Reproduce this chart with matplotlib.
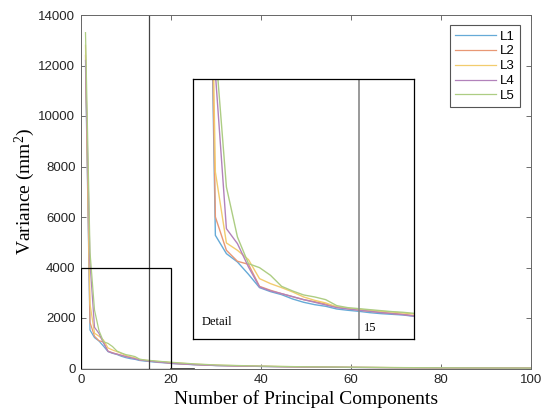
import matplotlib
matplotlib.use('Agg')
import matplotlib.pyplot as plt
from matplotlib.patches import Rectangle

# ---------------- data ----------------
components = list(range(1, 21)) + [25, 30, 40, 50, 60, 70, 80, 90, 100]
L1 = [12000, 1524, 1224, 1088, 886, 668, 602, 553, 482, 428, 389, 362, 318, 297, 280, 258, 242, 231, 220, 198,
      150, 115, 80, 58, 42, 32, 24, 18, 13]
L2 = [12400, 1824, 1279, 1099, 1050, 689, 624, 569, 520, 471, 438, 400, 351, 324, 302, 280, 264, 247, 231, 209,
      158, 120, 84, 61, 44, 34, 25, 19, 14]
L3 = [12800, 2561, 1399, 1279, 1126, 815, 733, 668, 597, 515, 460, 417, 351, 329, 313, 297, 280, 269, 253, 237,
      175, 132, 90, 65, 47, 36, 27, 20, 15]
L4 = [12200, 4178, 1633, 1388, 1006, 679, 613, 569, 520, 471, 428, 384, 340, 318, 297, 280, 258, 242, 226, 204,
      155, 118, 82, 60, 43, 33, 25, 18, 13]
L5 = [13300, 4612, 2315, 1497, 1060, 995, 869, 689, 613, 548, 515, 471, 373, 340, 324, 307, 291, 275, 264, 247,
      185, 140, 95, 68, 50, 38, 29, 22, 16]
series_names = ['L1', 'L2', 'L3', 'L4', 'L5']
series = [L1, L2, L3, L4, L5]
colors = ['#66AAD7', '#E89875', '#F2CC6E', '#B282BB', '#ADCD83']

x_ticks = [0, 20, 40, 60, 80, 100]
y_ticks = [0, 2000, 4000, 6000, 8000, 10000, 12000, 14000]
marked_pc = 15
detail_box = (0, 0, 20, 4000)

# ---------------- style ----------------
plt.rcParams['font.family'] = ['Liberation Sans', 'DejaVu Sans']
plt.rcParams['mathtext.fontset'] = 'custom'
plt.rcParams['mathtext.rm'] = 'Liberation Serif'
plt.rcParams['mathtext.it'] = 'Liberation Serif:italic'

W, H = 544, 420
fig = plt.figure(figsize=(W / 100, H / 100), dpi=100)

ax_l, ax_r, ax_t, ax_b = 81, 531, 15, 368.5
ax = fig.add_axes([ax_l / W, 1 - ax_b / H, (ax_r - ax_l) / W, (ax_b - ax_t) / H])

for name, vals, c in zip(series_names, series, colors):
    ax.plot(components, vals, color=c, lw=0.9, label=name)

ax.set_xlim(0, 100)
ax.set_ylim(0, 14000)
ax.set_xticks(x_ticks)
ax.set_yticks(y_ticks)
ax.tick_params(direction='in', length=3.5, width=0.6, top=True, right=True,
               labelsize=9.5, colors='#555555', labelcolor='#262626', pad=4)
for s in ax.spines.values():
    s.set_color('#666666')
    s.set_linewidth(0.7)

ax.axvline(marked_pc, color='#444444', lw=0.9)
x0, y0, x1, y1 = detail_box
ax.add_patch(Rectangle((x0, y0), x1 - x0, y1 - y0, fill=False, edgecolor='black', lw=0.9, zorder=5))
ax.plot([x1, 25], [0, 0], color='#333333', lw=1.2, zorder=5)

ax.set_xlabel('Number of Principal Components', family='Liberation Serif', fontsize=14, labelpad=3)
ax.set_ylabel('Variance (mm$^{2}$)', family='Liberation Serif', fontsize=14, labelpad=1)

leg = ax.legend(loc='upper right', bbox_to_anchor=((520 - ax_l) / (ax_r - ax_l), (ax_b - 25) / (ax_b - ax_t)),
                borderaxespad=0, fontsize=9.5, handlelength=3.1, handletextpad=0.3,
                labelspacing=0.2, borderpad=0.4, fancybox=False, framealpha=1)
leg.get_frame().set_edgecolor('#555555')
leg.get_frame().set_linewidth(0.8)

# ---------------- inset (detail) ----------------
in_l, in_r, in_t, in_b = 193.3, 414, 79.3, 339.3
axi = fig.add_axes([in_l / W, 1 - in_b / H, (in_r - in_l) / W, (in_b - in_t) / H])
for name, vals, c in zip(series_names, series, colors):
    axi.plot(components, vals, color=c, lw=1.0)
axi.set_xlim(0, 20)
axi.set_ylim(-178, 4078)
axi.set_xticks([])
axi.set_yticks([])
for s in axi.spines.values():
    s.set_color('black')
    s.set_linewidth(0.9)
axi.axvline(marked_pc, color='#888888', lw=1.2)
axi.text(0.04, 0.065, 'Detail', transform=axi.transAxes, family='Liberation Serif', fontsize=9,
         ha='left', va='center')
axi.text(marked_pc + 0.5, 0.045, '15', transform=axi.get_xaxis_transform(), family='Liberation Serif',
         fontsize=9, ha='left', va='center')

fig.savefig('out.png', dpi=100)
